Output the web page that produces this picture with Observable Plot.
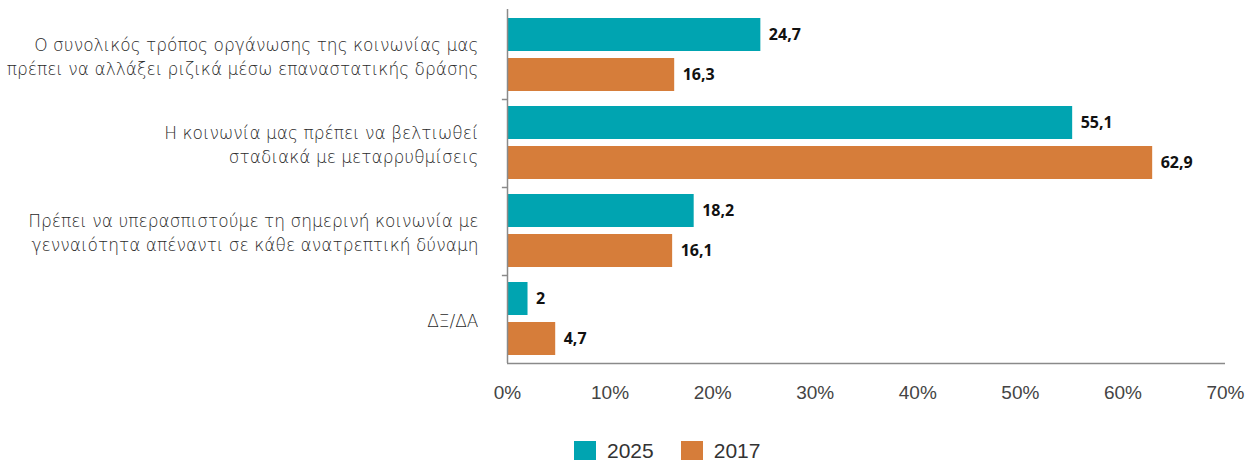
<!DOCTYPE html>
<html>
<head>
<meta charset="utf-8">
<script src="https://cdn.jsdelivr.net/npm/d3@7"></script>
<script src="https://cdn.jsdelivr.net/npm/@observablehq/plot@0.6"></script>
<style>
  html, body { margin: 0; padding: 0; background: #fff; }
  #wrap { position: relative; width: 1246px; height: 460px; }
  #legend { position: absolute; top: 439px; left: 574px; display: flex; align-items: center;
    font-family: "Liberation Sans", Arial, sans-serif; font-size: 21px; color: #333; }
  #legend .item { display: flex; align-items: center; margin-right: 27px; }
  #legend .sw { width: 22px; height: 21px; margin-right: 11px; }
</style>
</head>
<body>
<div id="wrap"><div id="chart"></div><div id="legend"></div></div>
<script>
const categories = [
  "Ο συνολικός τρόπος οργάνωσης της κοινωνίας μας\nπρέπει να αλλάξει ριζικά μέσω επαναστατικής δράσης",
  "Η κοινωνία μας πρέπει να βελτιωθεί\nσταδιακά με μεταρρυθμίσεις",
  "Πρέπει να υπερασπιστούμε τη σημερινή κοινωνία με\nγενναιότητα απέναντι σε κάθε ανατρεπτική δύναμη",
  "ΔΞ/ΔΑ"
];
const series = ["2025", "2017"];
const values2025 = [24.7, 55.1, 18.2, 2];
const values2017 = [16.3, 62.9, 16.1, 4.7];
const xTicks = [0, 10, 20, 30, 40, 50, 60, 70];
const colors = ["#00A4B1", "#D67D3A"];

const rows = [];
categories.forEach((c, i) => {
  rows.push({category: c, series: series[0], value: values2025[i]});
  rows.push({category: c, series: series[1], value: values2017[i]});
});

const W = 1246, H = 408, mTop = 11, mBottom = 45;
const bandH = (H - mTop - mBottom) / categories.length;
const fmt = v => String(v).replace(".", ",");
const axisColor = "#8a8a8a";

const r25 = rows.filter(d => d.series === series[0]);
const r17 = rows.filter(d => d.series === series[1]);

const chart = Plot.plot({
  width: W,
  height: H,
  marginLeft: 507,
  marginRight: 21,
  marginTop: mTop,
  marginBottom: mBottom,
  style: {background: "#fff", overflow: "visible"},
  x: {domain: [0, 70], label: null},
  y: {domain: categories, padding: 0, label: null},
  color: {domain: series, range: colors},
  marks: [
    Plot.barX(r25, {y: "category", x: "value", fill: "series", insetTop: 7, insetBottom: bandH - 40}),
    Plot.barX(r17, {y: "category", x: "value", fill: "series", insetTop: 47, insetBottom: bandH - 80}),
    Plot.text(r25, {y: "category", x: "value", text: d => fmt(d.value), dx: 8, dy: 23.5 - bandH / 2,
      textAnchor: "start", fontSize: 16, fontWeight: "bold", fill: "#111",
      fontFamily: "'Noto Sans', sans-serif"}),
    Plot.text(r17, {y: "category", x: "value", text: d => fmt(d.value), dx: 8, dy: 63.5 - bandH / 2,
      textAnchor: "start", fontSize: 16, fontWeight: "bold", fill: "#111",
      fontFamily: "'Noto Sans', sans-serif"}),
    // y axis line
    Plot.ruleX([0], {stroke: axisColor, strokeWidth: 1.5, insetTop: -2}),
    // boundary ticks on y axis
    Plot.ruleY(categories.slice(1), {y: d => d, x1: -0.5, x2: 0, dy: -bandH / 2, stroke: axisColor, strokeWidth: 1.5}),
    // x axis line
    Plot.ruleY(categories.slice(-1), {y: d => d, x1: 0, x2: 70, dy: bandH / 2, stroke: axisColor, strokeWidth: 1.5}),
    // x ticks going up
    Plot.ruleX(xTicks, {x: d => d, y: () => categories[categories.length - 1], insetTop: bandH - 6, stroke: axisColor, strokeWidth: 1.5}),
    Plot.axisX(xTicks, {tickSize: 0, tickPadding: 22, tickFormat: d => d + "%", fontSize: 19, fill: "#444",
      fontFamily: "'Liberation Sans', Arial, sans-serif", label: null}),
    Plot.axisY({tickSize: 0, tickPadding: 29, fontSize: 17, lineHeight: 1.42, fill: "#2a2a2a",
      fontFamily: "'DejaVu Sans', sans-serif", fontWeight: 300, tickFormat: d => d, label: null})
  ]
});
document.getElementById("chart").appendChild(chart);

const legend = document.getElementById("legend");
series.forEach((s, i) => {
  const item = document.createElement("div");
  item.className = "item";
  const sw = document.createElement("div");
  sw.className = "sw";
  sw.style.background = colors[i];
  const t = document.createElement("span");
  t.textContent = s;
  item.appendChild(sw);
  item.appendChild(t);
  legend.appendChild(item);
});
</script>
</body>
</html>
